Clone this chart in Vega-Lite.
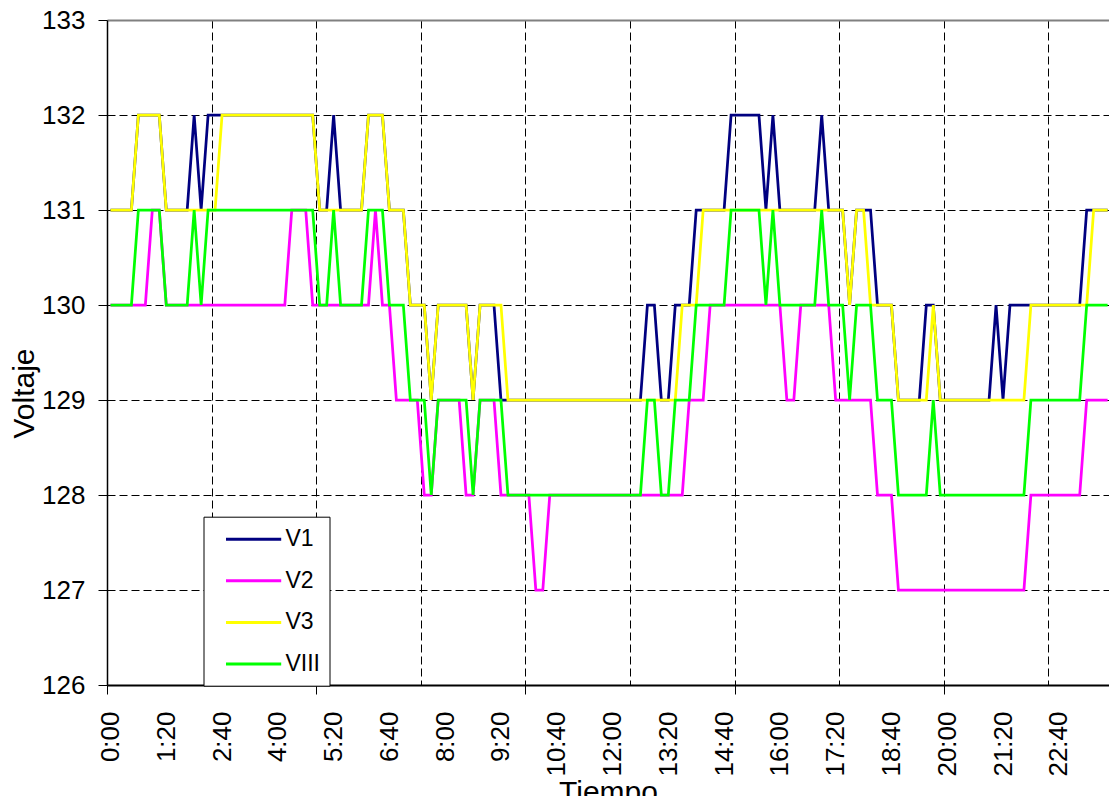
{
"$schema": "https://vega.github.io/schema/vega-lite/v6.json",
"width": 1002, "height": 665,
"autosize": "none",
"padding": {"left": 107, "top": 20, "right": 0, "bottom": 111},
"background": "white",
"config": {"font": "Liberation Sans", "view": {"stroke": null}},
"data": {"values": [
{"t":0,"V1":131,"V2":130,"V3":131,"VIII":130},
{"t":10,"V1":131,"V2":130,"V3":131,"VIII":130},
{"t":20,"V1":131,"V2":130,"V3":131,"VIII":130},
{"t":30,"V1":131,"V2":130,"V3":131,"VIII":130},
{"t":40,"V1":132,"V2":130,"V3":132,"VIII":131},
{"t":50,"V1":132,"V2":130,"V3":132,"VIII":131},
{"t":60,"V1":132,"V2":131,"V3":132,"VIII":131},
{"t":70,"V1":132,"V2":131,"V3":132,"VIII":131},
{"t":80,"V1":131,"V2":130,"V3":131,"VIII":130},
{"t":90,"V1":131,"V2":130,"V3":131,"VIII":130},
{"t":100,"V1":131,"V2":130,"V3":131,"VIII":130},
{"t":110,"V1":131,"V2":130,"V3":131,"VIII":130},
{"t":120,"V1":132,"V2":130,"V3":131,"VIII":131},
{"t":130,"V1":131,"V2":130,"V3":131,"VIII":130},
{"t":140,"V1":132,"V2":130,"V3":131,"VIII":131},
{"t":150,"V1":132,"V2":130,"V3":131,"VIII":131},
{"t":160,"V1":132,"V2":130,"V3":132,"VIII":131},
{"t":170,"V1":132,"V2":130,"V3":132,"VIII":131},
{"t":180,"V1":132,"V2":130,"V3":132,"VIII":131},
{"t":190,"V1":132,"V2":130,"V3":132,"VIII":131},
{"t":200,"V1":132,"V2":130,"V3":132,"VIII":131},
{"t":210,"V1":132,"V2":130,"V3":132,"VIII":131},
{"t":220,"V1":132,"V2":130,"V3":132,"VIII":131},
{"t":230,"V1":132,"V2":130,"V3":132,"VIII":131},
{"t":240,"V1":132,"V2":130,"V3":132,"VIII":131},
{"t":250,"V1":132,"V2":130,"V3":132,"VIII":131},
{"t":260,"V1":132,"V2":131,"V3":132,"VIII":131},
{"t":270,"V1":132,"V2":131,"V3":132,"VIII":131},
{"t":280,"V1":132,"V2":131,"V3":132,"VIII":131},
{"t":290,"V1":132,"V2":130,"V3":132,"VIII":131},
{"t":300,"V1":131,"V2":130,"V3":131,"VIII":130},
{"t":310,"V1":131,"V2":130,"V3":131,"VIII":130},
{"t":320,"V1":132,"V2":130,"V3":131,"VIII":131},
{"t":330,"V1":131,"V2":130,"V3":131,"VIII":130},
{"t":340,"V1":131,"V2":130,"V3":131,"VIII":130},
{"t":350,"V1":131,"V2":130,"V3":131,"VIII":130},
{"t":360,"V1":131,"V2":130,"V3":131,"VIII":130},
{"t":370,"V1":132,"V2":130,"V3":132,"VIII":131},
{"t":380,"V1":132,"V2":131,"V3":132,"VIII":131},
{"t":390,"V1":132,"V2":130,"V3":132,"VIII":131},
{"t":400,"V1":131,"V2":130,"V3":131,"VIII":130},
{"t":410,"V1":131,"V2":129,"V3":131,"VIII":130},
{"t":420,"V1":131,"V2":129,"V3":131,"VIII":130},
{"t":430,"V1":130,"V2":129,"V3":130,"VIII":129},
{"t":440,"V1":130,"V2":129,"V3":130,"VIII":129},
{"t":450,"V1":130,"V2":128,"V3":130,"VIII":129},
{"t":460,"V1":129,"V2":128,"V3":129,"VIII":128},
{"t":470,"V1":130,"V2":129,"V3":130,"VIII":129},
{"t":480,"V1":130,"V2":129,"V3":130,"VIII":129},
{"t":490,"V1":130,"V2":129,"V3":130,"VIII":129},
{"t":500,"V1":130,"V2":129,"V3":130,"VIII":129},
{"t":510,"V1":130,"V2":128,"V3":130,"VIII":129},
{"t":520,"V1":129,"V2":128,"V3":129,"VIII":128},
{"t":530,"V1":130,"V2":129,"V3":130,"VIII":129},
{"t":540,"V1":130,"V2":129,"V3":130,"VIII":129},
{"t":550,"V1":130,"V2":129,"V3":130,"VIII":129},
{"t":560,"V1":129,"V2":128,"V3":130,"VIII":129},
{"t":570,"V1":129,"V2":128,"V3":129,"VIII":128},
{"t":580,"V1":129,"V2":128,"V3":129,"VIII":128},
{"t":590,"V1":129,"V2":128,"V3":129,"VIII":128},
{"t":600,"V1":129,"V2":128,"V3":129,"VIII":128},
{"t":610,"V1":129,"V2":127,"V3":129,"VIII":128},
{"t":620,"V1":129,"V2":127,"V3":129,"VIII":128},
{"t":630,"V1":129,"V2":128,"V3":129,"VIII":128},
{"t":640,"V1":129,"V2":128,"V3":129,"VIII":128},
{"t":650,"V1":129,"V2":128,"V3":129,"VIII":128},
{"t":660,"V1":129,"V2":128,"V3":129,"VIII":128},
{"t":670,"V1":129,"V2":128,"V3":129,"VIII":128},
{"t":680,"V1":129,"V2":128,"V3":129,"VIII":128},
{"t":690,"V1":129,"V2":128,"V3":129,"VIII":128},
{"t":700,"V1":129,"V2":128,"V3":129,"VIII":128},
{"t":710,"V1":129,"V2":128,"V3":129,"VIII":128},
{"t":720,"V1":129,"V2":128,"V3":129,"VIII":128},
{"t":730,"V1":129,"V2":128,"V3":129,"VIII":128},
{"t":740,"V1":129,"V2":128,"V3":129,"VIII":128},
{"t":750,"V1":129,"V2":128,"V3":129,"VIII":128},
{"t":760,"V1":129,"V2":128,"V3":129,"VIII":128},
{"t":770,"V1":130,"V2":128,"V3":129,"VIII":129},
{"t":780,"V1":130,"V2":128,"V3":129,"VIII":129},
{"t":790,"V1":129,"V2":128,"V3":129,"VIII":128},
{"t":800,"V1":129,"V2":128,"V3":129,"VIII":128},
{"t":810,"V1":130,"V2":128,"V3":129,"VIII":129},
{"t":820,"V1":130,"V2":128,"V3":130,"VIII":129},
{"t":830,"V1":130,"V2":129,"V3":130,"VIII":129},
{"t":840,"V1":131,"V2":129,"V3":130,"VIII":130},
{"t":850,"V1":131,"V2":129,"V3":131,"VIII":130},
{"t":860,"V1":131,"V2":130,"V3":131,"VIII":130},
{"t":870,"V1":131,"V2":130,"V3":131,"VIII":130},
{"t":880,"V1":131,"V2":130,"V3":131,"VIII":130},
{"t":890,"V1":132,"V2":130,"V3":131,"VIII":131},
{"t":900,"V1":132,"V2":130,"V3":131,"VIII":131},
{"t":910,"V1":132,"V2":130,"V3":131,"VIII":131},
{"t":920,"V1":132,"V2":130,"V3":131,"VIII":131},
{"t":930,"V1":132,"V2":130,"V3":131,"VIII":131},
{"t":940,"V1":131,"V2":130,"V3":131,"VIII":130},
{"t":950,"V1":132,"V2":130,"V3":131,"VIII":131},
{"t":960,"V1":131,"V2":130,"V3":131,"VIII":130},
{"t":970,"V1":131,"V2":129,"V3":131,"VIII":130},
{"t":980,"V1":131,"V2":129,"V3":131,"VIII":130},
{"t":990,"V1":131,"V2":130,"V3":131,"VIII":130},
{"t":1000,"V1":131,"V2":130,"V3":131,"VIII":130},
{"t":1010,"V1":131,"V2":130,"V3":131,"VIII":130},
{"t":1020,"V1":132,"V2":130,"V3":131,"VIII":131},
{"t":1030,"V1":131,"V2":130,"V3":131,"VIII":130},
{"t":1040,"V1":131,"V2":129,"V3":131,"VIII":130},
{"t":1050,"V1":131,"V2":129,"V3":131,"VIII":130},
{"t":1060,"V1":130,"V2":129,"V3":130,"VIII":129},
{"t":1070,"V1":131,"V2":129,"V3":131,"VIII":130},
{"t":1080,"V1":131,"V2":129,"V3":131,"VIII":130},
{"t":1090,"V1":131,"V2":129,"V3":130,"VIII":130},
{"t":1100,"V1":130,"V2":128,"V3":130,"VIII":129},
{"t":1110,"V1":130,"V2":128,"V3":130,"VIII":129},
{"t":1120,"V1":130,"V2":128,"V3":130,"VIII":129},
{"t":1130,"V1":129,"V2":127,"V3":129,"VIII":128},
{"t":1140,"V1":129,"V2":127,"V3":129,"VIII":128},
{"t":1150,"V1":129,"V2":127,"V3":129,"VIII":128},
{"t":1160,"V1":129,"V2":127,"V3":129,"VIII":128},
{"t":1170,"V1":130,"V2":127,"V3":129,"VIII":128},
{"t":1180,"V1":130,"V2":127,"V3":130,"VIII":129},
{"t":1190,"V1":129,"V2":127,"V3":129,"VIII":128},
{"t":1200,"V1":129,"V2":127,"V3":129,"VIII":128},
{"t":1210,"V1":129,"V2":127,"V3":129,"VIII":128},
{"t":1220,"V1":129,"V2":127,"V3":129,"VIII":128},
{"t":1230,"V1":129,"V2":127,"V3":129,"VIII":128},
{"t":1240,"V1":129,"V2":127,"V3":129,"VIII":128},
{"t":1250,"V1":129,"V2":127,"V3":129,"VIII":128},
{"t":1260,"V1":129,"V2":127,"V3":129,"VIII":128},
{"t":1270,"V1":130,"V2":127,"V3":129,"VIII":128},
{"t":1280,"V1":129,"V2":127,"V3":129,"VIII":128},
{"t":1290,"V1":130,"V2":127,"V3":129,"VIII":128},
{"t":1300,"V1":130,"V2":127,"V3":129,"VIII":128},
{"t":1310,"V1":130,"V2":127,"V3":129,"VIII":128},
{"t":1320,"V1":130,"V2":128,"V3":130,"VIII":129},
{"t":1330,"V1":130,"V2":128,"V3":130,"VIII":129},
{"t":1340,"V1":130,"V2":128,"V3":130,"VIII":129},
{"t":1350,"V1":130,"V2":128,"V3":130,"VIII":129},
{"t":1360,"V1":130,"V2":128,"V3":130,"VIII":129},
{"t":1370,"V1":130,"V2":128,"V3":130,"VIII":129},
{"t":1380,"V1":130,"V2":128,"V3":130,"VIII":129},
{"t":1390,"V1":130,"V2":128,"V3":130,"VIII":129},
{"t":1400,"V1":131,"V2":129,"V3":130,"VIII":130},
{"t":1410,"V1":131,"V2":129,"V3":131,"VIII":130},
{"t":1420,"V1":131,"V2":129,"V3":131,"VIII":130},
{"t":1430,"V1":131,"V2":129,"V3":131,"VIII":130}
]},
"transform": [{"fold": ["V1","V2","V3","VIII"], "as": ["serie","voltaje"]}],
"layer": [
{
"mark": {"type": "line", "strokeWidth": 2.75, "clip": true},
"encoding": {
"x": {"field": "t", "type": "quantitative",
 "scale": {"domain": [-5, 1432], "nice": false, "zero": false},
 "axis": {"orient": "bottom", "values": [0,80,160,240,320,400,480,560,640,720,800,880,960,1040,1120,1200,1280,1360],
  "labelExpr": "floor(datum.value/60) + ':' + (datum.value%60 < 10 ? '0' : '') + (datum.value%60)",
  "labelAngle": 270, "labelFontSize": 26, "labelColor": "black", "labelPadding": 26,
  "labelOverlap": false, "labelFlush": false, "labelBound": false,
  "ticks": false, "grid": false, "domainColor": "black", "domainWidth": 2,
  "title": "Tiempo", "titleFontSize": 30, "titleFontWeight": "normal", "titleColor": "black", "titlePadding": 1}},
"y": {"field": "voltaje", "type": "quantitative",
 "scale": {"domain": [126, 133], "nice": false, "zero": false},
 "axis": {"values": [126,127,128,129,130,131,132,133], "labelFontSize": 26, "labelColor": "black", "labelPadding": 13,
  "tickSize": 9, "tickColor": "black", "domainColor": "black", "domainWidth": 1.5,
  "grid": true,
  "gridColor": {"condition": {"test": "datum.value === 133", "value": "#808080"}, "value": "black"},
  "gridDash": {"condition": {"test": "datum.value === 133", "value": []}, "value": [8, 4]},
  "gridWidth": {"condition": {"test": "datum.value === 133", "value": 2}, "value": 1},
  "title": "Voltaje", "titleFontSize": 30, "titleFontWeight": "normal", "titleColor": "black",
  "titleX": -74, "titleY": 373, "titleBaseline": "alphabetic", "titleAngle": 270, "titleAlign": "center"}},
"color": {"field": "serie", "type": "nominal",
 "scale": {"domain": ["V1","V2","V3","VIII"], "range": ["#000080","#FF00FF","#FFFF00","#00FF00"]},
 "legend": {"orient": "none", "legendX": 96.5, "legendY": 496.7, "title": null,
  "symbolType": "M0,0H4.6", "symbolSize": 576, "symbolStrokeWidth": 3,
  "labelFontSize": 23, "labelColor": "black", "labelOffset": 46,
  "labelExpr": "datum.label + ' '",
  "padding": 9, "rowPadding": 15.6, "strokeColor": "black", "fillColor": "white"}}
}
},
{
"mark": {"type": "line", "strokeOpacity": 0},
"encoding": {
"x": {"field": "t", "type": "quantitative",
 "axis": {"orient": "bottom", "values": [145,295,445,595,745,895,1045,1195,1345],
  "labels": false, "ticks": false, "domain": false, "grid": true,
  "gridColor": "black", "gridDash": [8, 4], "gridWidth": 1, "title": null}},
"y": {"field": "voltaje", "type": "quantitative", "axis": null},
"detail": {"field": "serie"}
}
},
{
"mark": {"type": "line", "strokeOpacity": 0},
"encoding": {
"x": {"field": "t", "type": "quantitative",
 "axis": {"orient": "bottom", "values": [-5,295,595,895,1195],
  "labels": false, "ticks": true, "tickSize": 9, "tickColor": "black", "tickWidth": 1,
  "domain": false, "grid": false, "title": null}},
"y": {"field": "voltaje", "type": "quantitative", "axis": null},
"detail": {"field": "serie"}
}
}
],
"resolve": {"axis": {"x": "independent", "y": "independent"}}
}
